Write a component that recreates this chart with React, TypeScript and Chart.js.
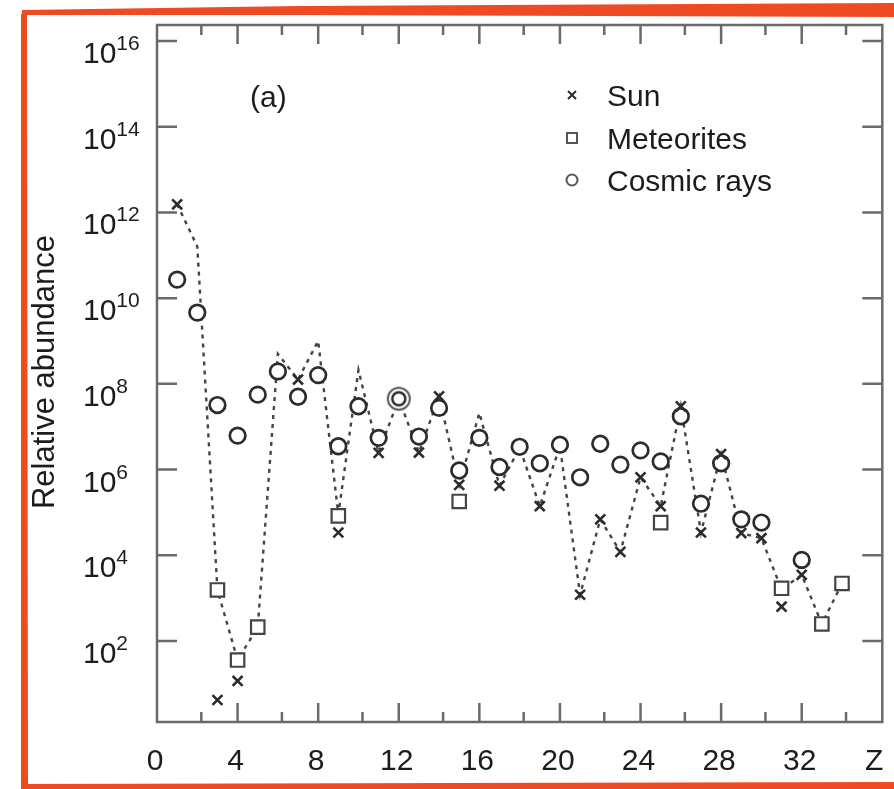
import { useEffect, useRef } from 'react';
import { Chart, registerables } from 'chart.js';

Chart.register(...registerables);

const FONT = '"Liberation Sans", Arial, Helvetica, sans-serif';
const AXIS = '#6a6a6a';
const MARK = '#2c2c2c';
const LINE = '#444444';
const TEXT = '#1c1c1c';
const RED = '#ee4a24';

// ---- data (atomic number Z, relative abundance) ----
const solarZ = [1, 2, 3, 4, 5, 6, 7, 8, 9, 10, 11, 12, 13, 14, 15, 16, 17, 18, 19, 20, 21, 22, 23, 24, 25, 26, 27, 28, 29, 30, 31, 32, 33, 34];
const solarValues = [1.55e12, 1.6e11, 1.55e3, 36, 210, 5.0e8, 1.26e8, 1.0e9, 8.9e4, 2.1e8, 2.45e6, 4.5e7, 2.5e6, 5.1e7, 4.4e5, 2.1e7, 4.2e5, 3.2e6, 1.4e5, 3.5e6, 1.2e3, 6.9e4, 1.2e4, 6.6e5, 1.4e5, 3.0e7, 3.4e4, 2.3e6, 3.3e4, 2.5e4, 1.6e3, 3.5e3, 250, 2.2e3];

const sunZ = [1, 3, 4, 7, 9, 11, 13, 14, 15, 17, 19, 21, 22, 23, 24, 25, 26, 27, 28, 29, 30, 31, 32];
const sunValues = [1.55e12, 4.2, 11.7, 1.26e8, 3.4e4, 2.45e6, 2.5e6, 5.1e7, 4.4e5, 4.2e5, 1.4e5, 1.2e3, 6.9e4, 1.2e4, 6.6e5, 1.4e5, 3.0e7, 3.4e4, 2.3e6, 3.3e4, 2.5e4, 630, 3.5e3];

const meteoriteZ = [3, 4, 5, 9, 15, 25, 31, 33, 34];
const meteoriteValues = [1.55e3, 36, 210, 8.3e4, 1.8e5, 5.8e4, 1.7e3, 250, 2.2e3];

const cosmicZ = [1, 2, 3, 4, 5, 6, 7, 8, 9, 10, 11, 12, 13, 14, 15, 16, 17, 18, 19, 20, 21, 22, 23, 24, 25, 26, 27, 28, 29, 30, 32];
const cosmicValues = [2.7e10, 4.6e9, 3.2e7, 6.2e6, 5.6e7, 1.95e8, 5.0e7, 1.6e8, 3.5e6, 3.0e7, 5.5e6, 4.5e7, 5.9e6, 2.75e7, 9.5e5, 5.5e6, 1.15e6, 3.4e6, 1.4e6, 3.8e6, 6.6e5, 4.0e6, 1.3e6, 2.8e6, 1.55e6, 1.75e7, 1.6e5, 1.4e6, 6.9e4, 5.8e4, 7.8e3];
const doubleRingZ = 12;

// ---- axes / labels ----
const yTickExponents = [2, 4, 6, 8, 10, 12, 14, 16];
const xLabelTicks = [0, 4, 8, 12, 16, 20, 24, 28, 32];
const xMajorTicks = [4, 8, 12, 16, 20, 24, 28, 32];
const xMinorTicks = [2.2, 6.2, 10.2, 14.2, 18.2, 22.2, 26.2, 30.2, 34.2];
const xAxisSymbol = 'Z';
const xAxisSymbolAt = 35.6;
const yTitle = 'Relative abundance';
const panelLabel = '(a)';
const legendLabels = ['Sun', 'Meteorites', 'Cosmic rays'];

const pts = (zs: number[], vs: number[]) => zs.map((z, i) => ({ x: z, y: vs[i] }));

function makeRing(): HTMLCanvasElement {
  const c = document.createElement('canvas');
  c.width = 28;
  c.height = 28;
  const g = c.getContext('2d')!;
  g.fillStyle = '#fff';
  g.beginPath();
  g.arc(14, 14, 11, 0, Math.PI * 2);
  g.fill();
  g.strokeStyle = '#5a5a5a';
  g.lineWidth = 2;
  g.beginPath();
  g.arc(14, 14, 11, 0, Math.PI * 2);
  g.stroke();
  g.strokeStyle = MARK;
  g.lineWidth = 2.5;
  g.beginPath();
  g.arc(14, 14, 6.5, 0, Math.PI * 2);
  g.stroke();
  return c;
}

const decor = {
  id: 'decor',
  beforeDraw(chart: any) {
    const ctx = chart.ctx;
    ctx.save();
    ctx.fillStyle = '#fff';
    ctx.fillRect(0, 0, chart.width, chart.height);
    ctx.restore();
  },
  afterDatasetsDraw(chart: any) {
    const { ctx, chartArea: a, scales } = chart;
    const xs = scales.x;
    const ys = scales.y;
    ctx.save();
    // frame
    ctx.strokeStyle = AXIS;
    ctx.lineWidth = 2.5;
    ctx.strokeRect(a.left, a.top, a.right - a.left, a.bottom - a.top);
    // ticks
    ctx.beginPath();
    for (const e of yTickExponents) {
      const y = ys.getPixelForValue(Math.pow(10, e));
      ctx.moveTo(a.left, y);
      ctx.lineTo(a.left + 20, y);
      ctx.moveTo(a.right, y);
      ctx.lineTo(a.right - 20, y);
    }
    for (const v of xMajorTicks) {
      const x = xs.getPixelForValue(v);
      ctx.moveTo(x, a.top);
      ctx.lineTo(x, a.top + 19);
      ctx.moveTo(x, a.bottom);
      ctx.lineTo(x, a.bottom - 19);
    }
    for (const v of xMinorTicks) {
      const x = xs.getPixelForValue(v);
      ctx.moveTo(x, a.top);
      ctx.lineTo(x, a.top + 10);
      ctx.moveTo(x, a.bottom);
      ctx.lineTo(x, a.bottom - 10);
    }
    ctx.stroke();

    // y tick labels with superscript
    ctx.fillStyle = TEXT;
    ctx.textBaseline = 'alphabetic';
    ctx.textAlign = 'left';
    for (const e of yTickExponents) {
      const y = ys.getPixelForValue(Math.pow(10, e));
      ctx.font = `30px ${FONT}`;
      ctx.fillText('10', 83, y + 22);
      const w = ctx.measureText('10').width;
      ctx.font = `21px ${FONT}`;
      ctx.fillText(String(e), 83 + w, y + 9);
    }
    // x tick labels
    ctx.font = `30px ${FONT}`;
    ctx.textAlign = 'center';
    for (const v of xLabelTicks) {
      ctx.fillText(String(v), xs.getPixelForValue(v) - 2, 770);
    }
    ctx.fillText(xAxisSymbol, xs.getPixelForValue(xAxisSymbolAt), 770);

    // y title
    ctx.save();
    ctx.translate(45, 372);
    ctx.rotate(-Math.PI / 2);
    ctx.font = `31px ${FONT}`;
    ctx.textAlign = 'center';
    ctx.textBaseline = 'middle';
    ctx.fillText(yTitle, 0, 0);
    ctx.restore();

    // panel label
    ctx.font = `30px ${FONT}`;
    ctx.textAlign = 'left';
    ctx.fillText(panelLabel, 250, 107);

    // legend
    const lx = 572;
    const rows = [95, 138, 180];
    ctx.strokeStyle = MARK;
    ctx.lineWidth = 2;
    ctx.beginPath();
    ctx.moveTo(lx - 4, rows[0] - 4);
    ctx.lineTo(lx + 4, rows[0] + 4);
    ctx.moveTo(lx + 4, rows[0] - 4);
    ctx.lineTo(lx - 4, rows[0] + 4);
    ctx.stroke();
    ctx.strokeStyle = '#555';
    ctx.strokeRect(lx - 5, rows[1] - 5, 10, 10);
    ctx.beginPath();
    ctx.arc(lx, rows[2], 5.5, 0, Math.PI * 2);
    ctx.stroke();
    ctx.font = `30px ${FONT}`;
    ctx.fillStyle = TEXT;
    legendLabels.forEach((t, i) => ctx.fillText(t, 607, rows[i] + 11));
    ctx.restore();
  },
  afterDraw(chart: any) {
    const ctx = chart.ctx;
    ctx.save();
    ctx.fillStyle = RED;
    // top band
    ctx.beginPath();
    ctx.moveTo(22, 10);
    ctx.lineTo(300, 6);
    ctx.lineTo(894, 3);
    ctx.lineTo(894, 17);
    ctx.lineTo(300, 15);
    ctx.lineTo(22, 15);
    ctx.closePath();
    ctx.fill();
    // left band
    ctx.beginPath();
    ctx.moveTo(21, 14);
    ctx.lineTo(27, 14);
    ctx.lineTo(28, 789);
    ctx.lineTo(21, 789);
    ctx.closePath();
    ctx.fill();
    // bottom band
    ctx.beginPath();
    ctx.moveTo(21, 784);
    ctx.lineTo(894, 782);
    ctx.lineTo(894, 789);
    ctx.lineTo(21, 789);
    ctx.closePath();
    ctx.fill();
    ctx.restore();
  },
};

export default function App() {
  const ref = useRef<HTMLCanvasElement>(null);
  useEffect(() => {
    const ring = makeRing();
    const chart = new Chart(ref.current!, {
      type: 'scatter',
      data: {
        datasets: [
          {
            label: 'Sun',
            data: pts(sunZ, sunValues),
            pointStyle: 'crossRot',
            pointRadius: 7,
            borderColor: MARK,
            borderWidth: 2.6,
            backgroundColor: MARK,
          },
          {
            label: 'Meteorites',
            data: pts(meteoriteZ, meteoriteValues),
            pointStyle: 'rect',
            pointRadius: 9.5,
            borderColor: '#444444',
            borderWidth: 2.2,
            backgroundColor: '#ffffff',
          },
          {
            label: 'Cosmic rays',
            data: pts(cosmicZ, cosmicValues),
            pointStyle: (c: any) => (cosmicZ[c.dataIndex] === doubleRingZ ? ring : 'circle'),
            pointRadius: 7.8,
            borderColor: MARK,
            borderWidth: 2.7,
            backgroundColor: '#ffffff',
          },
          {
            label: 'Solar system',
            data: pts(solarZ, solarValues),
            showLine: true,
            borderColor: LINE,
            borderWidth: 2.4,
            borderDash: [4, 5],
            pointRadius: 0,
            tension: 0,
          } as any,
        ],
      },
      options: {
        responsive: false,
        animation: false,
        devicePixelRatio: 1,
        layout: { padding: { left: 157, right: 9, top: 25, bottom: 67 } },
        plugins: { legend: { display: false }, tooltip: { enabled: false } },
        scales: {
          x: { type: 'linear', min: 0, max: 36, display: false },
          y: { type: 'logarithmic', min: Math.pow(10, 0.11), max: Math.pow(10, 16.373), display: false },
        },
      },
      plugins: [decor],
    });
    return () => chart.destroy();
  }, []);
  return (
    <div style={{ position: 'absolute', left: 0, top: 0, width: 894, height: 789, background: '#fff' }}>
      <canvas ref={ref} width={894} height={789} style={{ display: 'block' }} />
    </div>
  );
}
